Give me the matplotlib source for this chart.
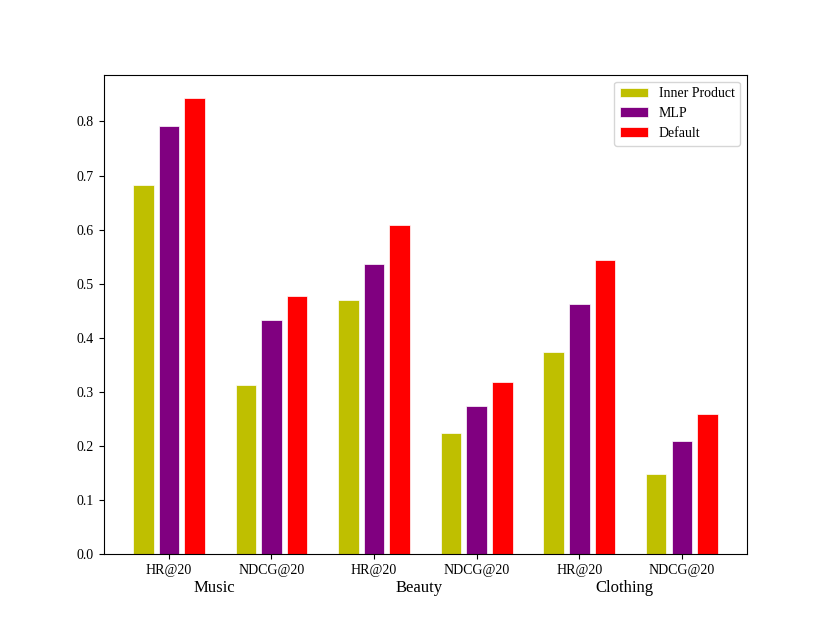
import numpy as np
import matplotlib.pyplot as plt
from matplotlib import transforms

plt.rcParams['font.family'] = ['Liberation Serif', 'DejaVu Serif']

metrics = ["HR@20", "NDCG@20", "HR@20", "NDCG@20", "HR@20", "NDCG@20"]
datasets = ["Music", "Beauty", "Clothing"]

inner_product = [0.683, 0.313, 0.470, 0.224, 0.374, 0.148]
mlp = [0.792, 0.433, 0.537, 0.274, 0.462, 0.210]
default = [0.844, 0.477, 0.608, 0.318, 0.544, 0.259]

x = np.arange(len(metrics))
width = 0.2

fig, ax = plt.subplots(figsize=(8.3, 6.23), dpi=100)
ax.bar(x - 0.25, inner_product, width, color='y', edgecolor='white', linewidth=0.5, label='Inner Product')
ax.bar(x, mlp, width, color='purple', edgecolor='white', linewidth=0.5, label='MLP')
ax.bar(x + 0.25, default, width, color='r', edgecolor='white', linewidth=0.5, label='Default')

ax.set_xticks(x)
ax.set_xticklabels(metrics)
ax.legend(loc='upper right')

# dataset names under each pair of metrics
trans = transforms.blended_transform_factory(ax.transData, ax.transAxes)
for i, name in enumerate(datasets):
    ax.text(2 * i + 0.44, -0.069, name, transform=trans, ha='center', va='center', fontsize=12)

plt.savefig("out.png")
